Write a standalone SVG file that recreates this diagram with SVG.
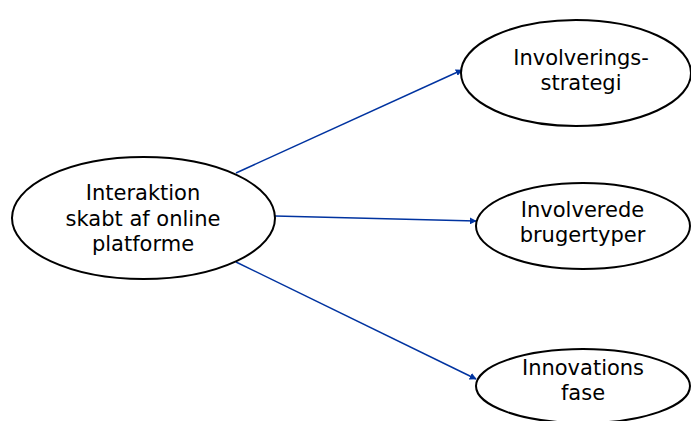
<svg xmlns="http://www.w3.org/2000/svg" width="691" height="421" viewBox="0 0 691 421">
<style>
.n ellipse{fill:#fff;stroke:#000;stroke-width:2}
.n text{font-family:"DejaVu Sans",Verdana,sans-serif;font-size:21px;fill:#000;text-anchor:middle}
.c line{stroke:#0033a0;stroke-width:1.5;marker-end:url(#ah)}
</style>
<defs>
<marker id="ah" viewBox="0 0 10 10" refX="9" refY="5" markerWidth="7" markerHeight="7" markerUnits="userSpaceOnUse" orient="auto">
<path d="M0,0 L10,5 L0,10 z" fill="#0033a0"/>
</marker>
</defs>
<rect width="691" height="421" fill="#fff"/>
<g class="c" id="connectors">
<line x1="236" y1="173" x2="462" y2="70"/>
<line x1="275" y1="216" x2="476" y2="221"/>
<line x1="236" y1="262" x2="476" y2="379"/>
</g>
<g class="n" id="node-interaktion">
<ellipse cx="143.5" cy="218" rx="131.5" ry="61"/>
<text x="143" y="200">Interaktion</text>
<text x="143" y="226">skabt af online</text>
<text x="143" y="251">platforme</text>
</g>
<g class="n" id="node-strategi">
<ellipse cx="576" cy="73" rx="115" ry="53"/>
<text x="581" y="65">Involverings-</text>
<text x="581" y="90">strategi</text>
</g>
<g class="n" id="node-brugertyper">
<ellipse cx="583" cy="226" rx="107" ry="43"/>
<text x="582.5" y="217">Involverede</text>
<text x="582.5" y="242">brugertyper</text>
</g>
<g class="n" id="node-fase">
<ellipse cx="583" cy="386" rx="107" ry="37"/>
<text x="583" y="375">Innovations</text>
<text x="583" y="400">fase</text>
</g>
</svg>
